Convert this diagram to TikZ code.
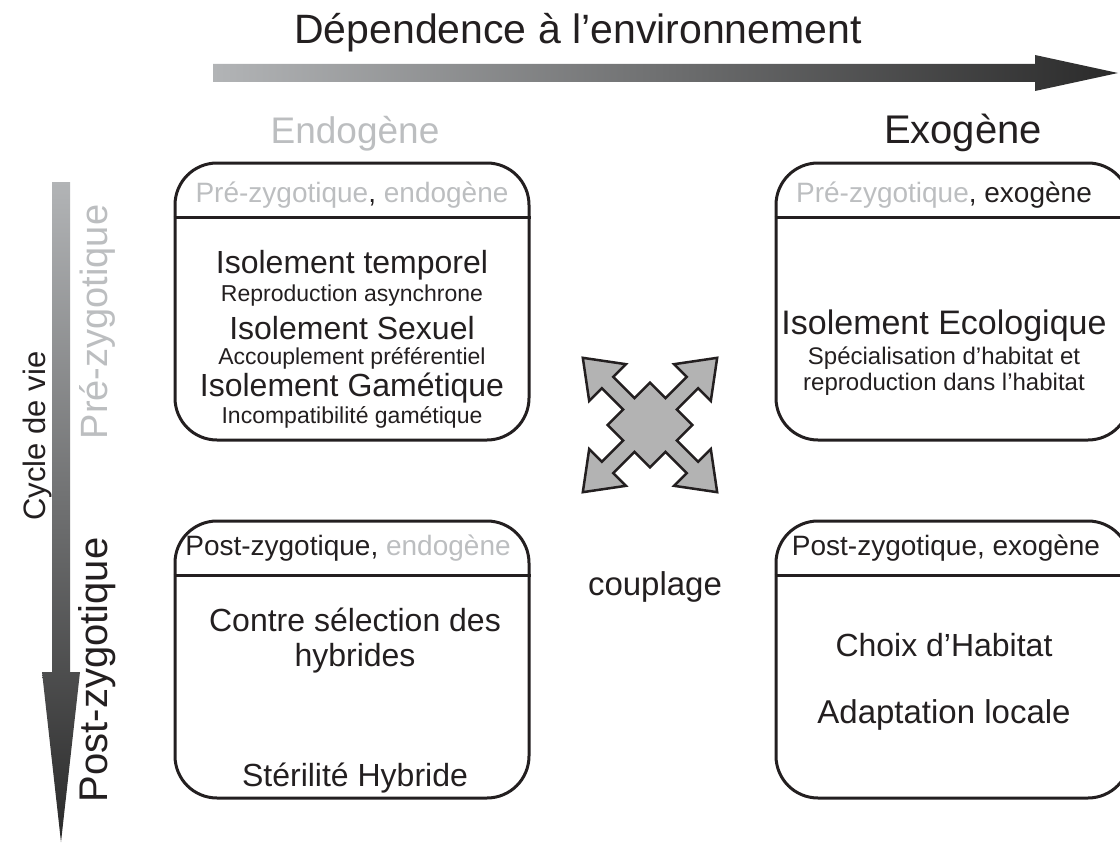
\documentclass[tikz,border=0pt]{standalone}
\usepackage{fontspec}
\setmainfont{Liberation Sans}
\usetikzlibrary{positioning}
\definecolor{inkblack}{RGB}{35,31,32}
\definecolor{paletext}{RGB}{188,190,192}
\definecolor{crossgrey}{RGB}{179,179,179}
\definecolor{arrowlight}{RGB}{178,180,182}
\definecolor{arrowdark}{RGB}{42,42,42}
\tikzset{
    phase box/.style={draw=inkblack,line width=3pt,rounded corners=42pt,minimum width=354pt,minimum height=277pt,inner sep=0pt},
    head line/.style={draw=inkblack,line width=3pt},
    head text/.style={anchor=base,text=inkblack,font=\fontsize{28}{32}\selectfont},
    main text/.style={anchor=base,text=inkblack,font=\fontsize{32}{36}\selectfont},
    sub text/.style={anchor=base,text=inkblack,font=\fontsize{23}{27}\selectfont},
    couple/.style={draw=inkblack,fill=crossgrey,line width=2.5pt,line join=miter},
}

\begin{document}
\begin{tikzpicture}[x=1pt,y=-1pt]
	\useasboundingbox (0,0) rectangle (1120,843);

	% axes
	\node[anchor=base,text=inkblack,font=\fontsize{41}{44}\selectfont] (dep) at (578,44) {Dépendence à l'environnement};
	\shade[left color=arrowlight,right color=arrowdark] (213,64) -- (1035,64) -- (1035,55) -- (1118,73) -- (1035,91) -- (1035,82) -- (213,82) -- cycle;
	\node[anchor=base,text=paletext,font=\fontsize{37}{40}\selectfont] (endo) at (355,143) {Endogène};
	\node[anchor=base,text=inkblack,font=\fontsize{40}{44}\selectfont] (exo) at (963,143) {Exogène};

	\shade[top color=arrowlight,bottom color=arrowdark] (52,182) -- (70,182) -- (70,672) -- (80,672) -- (61,842) -- (42,672) -- (52,672) -- cycle;
	\node[rotate=90,text=inkblack,font=\fontsize{31}{34}\selectfont] (cycle) at (37,436) {Cycle de vie};
	\node[rotate=90,text=paletext,font=\fontsize{38}{42}\selectfont] (pre) at (97,322) {Pré-zygotique};
	\node[rotate=90,text=inkblack,font=\fontsize{40}{44}\selectfont] (post) at (97,670) {Post-zygotique};

	% boxes
	\node[phase box] (preendo) at (352,301.5) {};
	\node[phase box] (preexo) at (953,301.5) {};
	\node[phase box] (postendo) at (352,659.5) {};
	\node[phase box] (postexo) at (953,659.5) {};
	\foreach \b in {preendo,preexo,postendo,postexo}
		\draw[head line] ([yshift=-56pt]\b.north west) -- ([yshift=-56pt]\b.north east);

	\node[head text] (h1) at (352,202) {{\color{paletext}Pré-zygotique}, {\color{paletext}endogène}};
	\node[head text] (h2) at (944,202) {{\color{paletext}Pré-zygotique}, exogène};
	\node[head text] (h3) at (348,555) {Post-zygotique, {\color{paletext}endogène}};
	\node[head text] (h4) at (946,555) {Post-zygotique, exogène};

	\node[main text] (temporel) at (352,273) {Isolement temporel};
	\node[sub text] (asynch) at (352,301) {Reproduction asynchrone};
	\node[main text] (sexuel) at (352,339) {Isolement Sexuel};
	\node[sub text] (accoupl) at (352,364) {Accouplement préférentiel};
	\node[main text] (gamet) at (352,396) {Isolement Gamétique};
	\node[sub text] (incomp) at (352,423) {Incompatibilité gamétique};

	\node[main text,font=\fontsize{34}{38}\selectfont] (ecolo) at (944,334) {Isolement Ecologique};
	\node[sub text,font=\fontsize{24}{28}\selectfont] (special) at (944,364) {Spécialisation d'habitat et};
	\node[sub text,font=\fontsize{24}{28}\selectfont] (reprod) at (944,390) {reproduction dans l'habitat};

	\node[main text] (contre) at (355,631) {Contre sélection des};
	\node[main text] (hybr) at (355,666) {hybrides};
	\node[main text] (steril) at (355,786) {Stérilité Hybride};

	\node[main text] (choix) at (944,656) {Choix d'Habitat};
	\node[main text,font=\fontsize{33}{37}\selectfont] (adapt) at (944,723) {Adaptation locale};

	% couplage
	\begin{scope}[shift={(650,425)},rotate=45]
		\draw[couple] (30,-30) -- (30,-8) -- (60,-8) -- (60,-26) -- (95,0) -- (60,26) -- (60,8) -- (30,8)
			-- (30,30) -- (8,30) -- (8,60) -- (26,60) -- (0,95) -- (-26,60) -- (-8,60) -- (-8,30)
			-- (-30,30) -- (-30,8) -- (-60,8) -- (-60,26) -- (-95,0) -- (-60,-26) -- (-60,-8) -- (-30,-8)
			-- (-30,-30) -- (-8,-30) -- (-8,-60) -- (-26,-60) -- (0,-95) -- (26,-60) -- (8,-60) -- (8,-30) -- cycle;
	\end{scope}
	\node[anchor=base,text=inkblack,font=\fontsize{33}{36}\selectfont] (coupl) at (655,595) {couplage};
\end{tikzpicture}
\end{document}
